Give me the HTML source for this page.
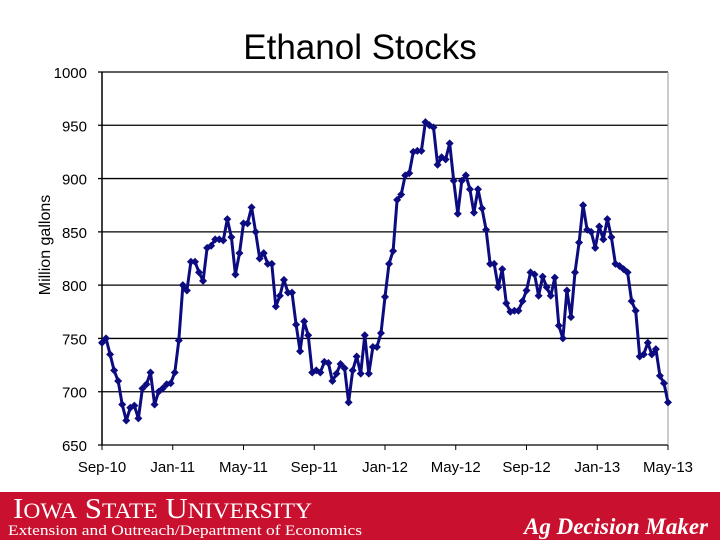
<!DOCTYPE html>
<html><head><meta charset="utf-8"><style>
body{margin:0;width:720px;height:540px;background:#fff;overflow:hidden;font-family:"Liberation Sans",sans-serif}
</style></head><body>
<svg width="720" height="540" style="position:absolute;left:0;top:0">
<text x="360" y="59" text-anchor="middle" font-size="35" font-family="Liberation Sans">Ethanol Stocks</text>
<g id="grid"></g>
<g id="yticks"></g>
<g id="xticks"></g>
<text transform="translate(50,245) rotate(-90)" text-anchor="middle" font-size="16">Million gallons</text>
<line x1="102" y1="72" x2="102" y2="445" stroke="#000" stroke-width="1.5"/>
<line x1="668" y1="72" x2="668" y2="445" stroke="#999" stroke-width="1"/>
<g id="series"></g>
<rect x="0" y="492" width="720" height="48" fill="#c9102f"/>
<text x="13" y="518" fill="#fff" font-family="Liberation Serif" font-size="29" textLength="299" lengthAdjust="spacingAndGlyphs">I<tspan font-size="22">OWA</tspan> S<tspan font-size="22">TATE</tspan> U<tspan font-size="22">NIVERSITY</tspan></text>
<text x="8" y="535" fill="#fff" font-family="Liberation Serif" font-size="15" textLength="354" lengthAdjust="spacingAndGlyphs">Extension and Outreach/Department of Economics</text>
<text x="708" y="534" text-anchor="end" fill="#fff" font-family="Liberation Serif" font-style="italic" font-weight="bold" font-size="23">Ag Decision Maker</text>
</svg>
<script>
const yTicks=[650,700,750,800,850,900,950,1000];
const xLabels=["Sep-10","Jan-11","May-11","Sep-11","Jan-12","May-12","Sep-12","Jan-13","May-13"];
const stocks=[746,750,735,720,710,688,673,685,687,675,703,707,718,688,700,703,707,708,718,748,800,795,822,822,812,804,835,837,843,843,842,862,845,810,830,858,858,873,850,825,830,820,820,780,790,805,793,793,763,738,766,753,718,720,718,728,727,710,717,726,722,690,720,733,717,753,717,742,742,755,789,820,832,880,885,903,905,925,926,926,953,950,948,913,920,918,933,898,867,898,903,890,868,890,872,852,820,820,798,815,783,775,776,776,785,795,812,810,790,808,798,790,807,762,750,795,770,812,840,875,852,850,835,855,843,862,845,820,818,815,812,785,776,733,735,746,735,740,715,708,690];
const X0=102,X1=668,Y0=445,Y1=72,VMIN=650,VMAX=1000;
const ns="http://www.w3.org/2000/svg";
function yS(v){return Y0-(v-VMIN)/(VMAX-VMIN)*(Y0-Y1);}
function xS(i){return X0+i/(stocks.length-1)*(X1-X0);}
function xL(i){return X0+i/(xLabels.length-1)*(X1-X0);}
function mk(t,a,p){const e=document.createElementNS(ns,t);for(const k in a)e.setAttribute(k,a[k]);p.appendChild(e);return e;}
const grid=document.getElementById('grid'),yt=document.getElementById('yticks'),xt=document.getElementById('xticks'),se=document.getElementById('series');
yTicks.forEach(v=>{
 const l=mk('line',{x1:X0-4,x2:X1,y1:yS(v),y2:yS(v),stroke:'#000','stroke-width':1.3},grid);
 
 
 const t=mk('text',{x:87,y:yS(v)+6,'text-anchor':'end','font-size':15},yt);
 t.textContent=v;
 
 
});
xLabels.forEach((s,i)=>{
 const tk=mk('line',{x1:xL(i),x2:xL(i),y1:Y0,y2:Y0+5,stroke:'#000'},xt);
 
 
 const t=mk('text',{x:xL(i),y:472,'text-anchor':'middle','font-size':15},xt);
 t.textContent=s;
 
 
});
const pts=stocks.map((v,i)=>xS(i).toFixed(1)+','+yS(v).toFixed(1)).join(' ');
const pl=mk('polyline',{points:pts,fill:'none',stroke:'#0c0c80','stroke-width':3,'stroke-linejoin':'round'},se);


stocks.forEach((v,i)=>{
 const x=xS(i),y=yS(v);
 const d=mk('polygon',{points:`${x},${y-4} ${x+4},${y} ${x},${y+4} ${x-4},${y}`,fill:'#0c0c80'},se);
 
 
});
</script>
</body></html>
